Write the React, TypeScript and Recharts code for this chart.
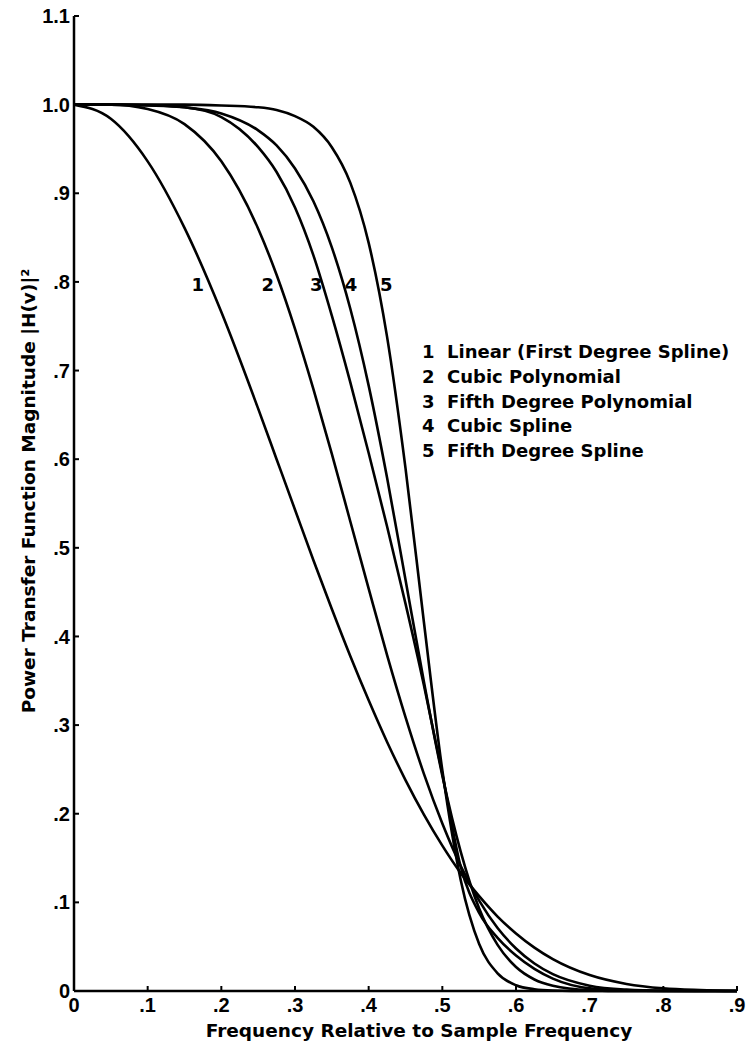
import { LineChart, Line, XAxis, YAxis, ReferenceDot, Customized } from "recharts"

// frequency relative to sample frequency
const frequency = [
  0, 0.05, 0.1, 0.15, 0.2, 0.25, 0.275, 0.3, 0.325, 0.35, 0.375, 0.4, 0.425, 0.45, 0.475, 0.5, 0.525,
  0.55, 0.575, 0.6, 0.625, 0.65, 0.7, 0.75, 0.8, 0.85, 0.9,
]

// |H(v)|^2 for each interpolator
const linear = [
  1, 0.984, 0.936, 0.861, 0.766, 0.657, 0.6, 0.543, 0.486, 0.431, 0.378, 0.328, 0.281, 0.238, 0.199, 0.164,
  0.133, 0.107, 0.084, 0.065, 0.049, 0.036, 0.018, 0.008, 0.003, 0.001, 0,
]
const cubicPoly = [
  1, 1, 0.995, 0.978, 0.936, 0.86, 0.808, 0.747, 0.679, 0.606, 0.53, 0.454, 0.379, 0.309, 0.245, 0.189,
  0.141, 0.102, 0.071, 0.048, 0.031, 0.019, 0.006, 0.0015, 0.0002, 0, 0,
]
const fifthPoly = [
  1, 1, 0.999, 0.997, 0.986, 0.952, 0.924, 0.884, 0.83, 0.762, 0.687, 0.607, 0.524, 0.437, 0.345, 0.245,
  0.14, 0.088, 0.06, 0.04, 0.025, 0.014, 0.003, 0.0005, 0, 0, 0,
]
const cubicSpline = [
  1, 1, 0.9995, 0.997, 0.99, 0.971, 0.954, 0.928, 0.891, 0.839, 0.77, 0.683, 0.579, 0.464, 0.349, 0.243,
  0.157, 0.093, 0.052, 0.027, 0.013, 0.006, 0.001, 0, 0, 0, 0,
]
const fifthSpline = [
  1, 1, 1, 1, 0.999, 0.997, 0.994, 0.987, 0.975, 0.952, 0.912, 0.844, 0.738, 0.59, 0.416, 0.249, 0.125,
  0.053, 0.02, 0.0065, 0.002, 0.0006, 0, 0, 0, 0, 0,
]

const xTicks = [0, 0.1, 0.2, 0.3, 0.4, 0.5, 0.6, 0.7, 0.8, 0.9]
const yTicks = [0, 0.1, 0.2, 0.3, 0.4, 0.5, 0.6, 0.7, 0.8, 0.9, 1.0, 1.1]

const curveNames = [
  "Linear (First Degree Spline)",
  "Cubic Polynomial",
  "Fifth Degree Polynomial",
  "Cubic Spline",
  "Fifth Degree Spline",
]

// where the curve numbers sit, in chart units
const tagFreq = [0.168, 0.263, 0.329, 0.376, 0.424]
const tagLevel = 0.797

const data = frequency.map((f, i) => ({
  f,
  c1: linear[i],
  c2: cubicPoly[i],
  c3: fifthPoly[i],
  c4: cubicSpline[i],
  c5: fifthSpline[i],
}))

const FONT = "'DejaVu Sans', sans-serif"
const TICK_FONT = "'Liberation Sans', Arial, sans-serif"

const fmt = (v: number) => {
  if (v === 0) return "0"
  const s = v.toFixed(1)
  return v >= 1 ? s : s.replace(/^0/, "")
}

const Titles = () => (
  <g fill="#000" fontFamily={FONT} fontWeight={700} fontSize={18.5}>
    <text x={419} y={1037} textAnchor="middle">
      Frequency Relative to Sample Frequency
    </text>
    <text transform="rotate(-90)" x={-491} y={35} textAnchor="middle">
      Power Transfer Function Magnitude |H(v)|²
    </text>
    {curveNames.map((name, i) => (
      <g key={name}>
        <text x={422} y={358 + i * 24.8} fontSize={18}>
          {i + 1}
        </text>
        <text x={447} y={358 + i * 24.8} fontSize={18}>
          {name}
        </text>
      </g>
    ))}
  </g>
)

const tagLabel = (n: number) => (props: any) => {
  const vb = props.viewBox || {}
  const cx = (vb.x ?? 0) + (vb.width ?? 0) / 2
  const cy = (vb.y ?? 0) + (vb.height ?? 0) / 2
  return (
    <text x={cx} y={cy + 6.5} textAnchor="middle" fontFamily={FONT} fontWeight={700} fontSize={18} fill="#000">
      {n}
    </text>
  )
}

export default function App() {
  return (
    <div style={{ position: "absolute", left: 0, top: 0, background: "#fff" }}>
      <LineChart width={748} height={1052} data={data} margin={{ top: 16, right: 11, left: 0, bottom: 0 }}>
        <XAxis
          dataKey="f"
          type="number"
          domain={[0, 0.9]}
          ticks={xTicks}
          tickFormatter={fmt}
          height={61}
          tickSize={-5}
          tickMargin={12}
          axisLine={{ stroke: "#000", strokeWidth: 2.5 }}
          tickLine={{ stroke: "#000", strokeWidth: 2 }}
          tick={{ fill: "#000", fontSize: 20, fontWeight: 700, fontFamily: TICK_FONT }}
        />
        <YAxis
          type="number"
          domain={[0, 1.1]}
          ticks={yTicks}
          tickFormatter={fmt}
          width={74}
          tickSize={-5}
          tickMargin={9}
          axisLine={{ stroke: "#000", strokeWidth: 2.5 }}
          tickLine={{ stroke: "#000", strokeWidth: 2 }}
          tick={{ fill: "#000", fontSize: 20, fontWeight: 700, fontFamily: TICK_FONT }}
        />
        {["c1", "c2", "c3", "c4", "c5"].map((k) => (
          <Line
            key={k}
            dataKey={k}
            type="monotone"
            stroke="#000"
            strokeWidth={2.6}
            dot={false}
            activeDot={false}
            isAnimationActive={false}
          />
        ))}
        {tagFreq.map((fx, i) => (
          <ReferenceDot
            key={i}
            x={fx}
            y={tagLevel}
            r={1}
            fill="none"
            stroke="none"
            label={tagLabel(i + 1)}
          />
        ))}
        <Customized component={Titles} />
      </LineChart>
    </div>
  )
}
